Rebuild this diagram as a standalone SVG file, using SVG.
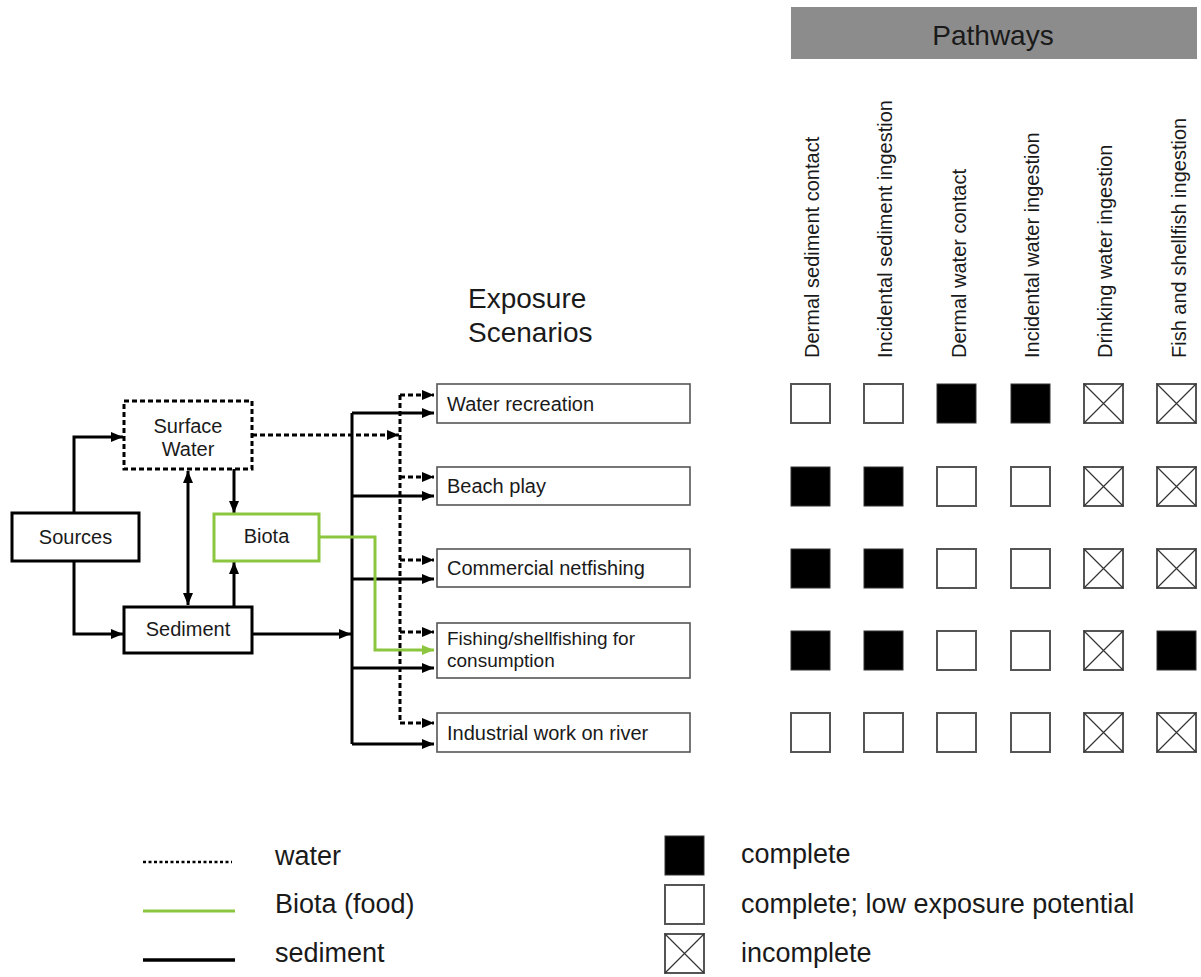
<svg xmlns="http://www.w3.org/2000/svg" width="1201" height="977" viewBox="0 0 1201 977">
<defs>
<marker id="ah" viewBox="0 0 12 10" refX="12" refY="5" markerWidth="12" markerHeight="10" markerUnits="userSpaceOnUse" orient="auto-start-reverse"><path d="M0,0 L12,5 L0,10 z" fill="#000"/></marker>
<marker id="ahg" viewBox="0 0 12 10" refX="12" refY="5" markerWidth="12" markerHeight="10" markerUnits="userSpaceOnUse" orient="auto"><path d="M0,0 L12,5 L0,10 z" fill="#8cc63e"/></marker>
<g id="xmark"><rect x="0" y="0" width="39" height="39" fill="#fff" stroke="#555" stroke-width="2"/><path d="M0,0 L39,39 M39,0 L0,39" stroke="#333" stroke-width="1.2"/></g>
<rect id="wsq" x="0" y="0" width="39" height="39" fill="#fff" stroke="#555" stroke-width="2"/>
<rect id="bsq" x="0" y="0" width="39" height="39" fill="#000" stroke="#333" stroke-width="1"/>
</defs>
<style>
text{font-family:"Liberation Sans",Arial,sans-serif;fill:#1a1a1a}
.n{font-size:20px}
.n2{font-size:19px}
.big{font-size:28px}
.lg{font-size:27px}
.col{font-size:20px}
.node{fill:#fff;stroke:#000;stroke-width:3}
.scn{fill:#fff;stroke:#555;stroke-width:1.6}
.sed{fill:none;stroke:#000;stroke-width:3}
.wat{fill:none;stroke:#000;stroke-width:3;stroke-dasharray:5 3}
.bio{fill:none;stroke:#8cc63e;stroke-width:3}
</style>
<rect width="1201" height="977" fill="#fff"/>

<g id="pathways-header">
<rect x="791" y="7" width="406" height="52" fill="#8c8c8c"/>
<text class="big" x="993" y="45" text-anchor="middle">Pathways</text>
</g>

<g id="column-labels">
<text class="col" transform="translate(819,358) rotate(-90)">Dermal sediment contact</text>
<text class="col" transform="translate(892,358) rotate(-90)">Incidental sediment ingestion</text>
<text class="col" transform="translate(966,358) rotate(-90)">Dermal water contact</text>
<text class="col" transform="translate(1039,358) rotate(-90)">Incidental water ingestion</text>
<text class="col" transform="translate(1112,358) rotate(-90)">Drinking water ingestion</text>
<text class="col" transform="translate(1186,358) rotate(-90)">Fish and shellfish ingestion</text>
</g>

<g id="exposure-title">
<text class="big" x="468" y="308">Exposure</text>
<text class="big" x="468" y="342">Scenarios</text>
</g>

<g id="connectors">
<path class="sed" d="M74,513 V437 H123" marker-end="url(#ah)"/>
<path class="sed" d="M74,561 V634 H123" marker-end="url(#ah)"/>
<path class="sed" d="M188,471 V605" marker-start="url(#ah)" marker-end="url(#ah)"/>
<path class="sed" d="M234,469 V513" marker-end="url(#ah)"/>
<path class="sed" d="M234,607 V562" marker-end="url(#ah)"/>
<path class="sed" d="M252,634 H351" marker-end="url(#ah)"/>
<path class="sed" d="M352,413 V744"/>
<path class="sed" d="M352,413 H434" marker-end="url(#ah)"/>
<path class="sed" d="M352,496 H434" marker-end="url(#ah)"/>
<path class="sed" d="M352,579 H434" marker-end="url(#ah)"/>
<path class="sed" d="M352,668 H434" marker-end="url(#ah)"/>
<path class="sed" d="M352,744 H434" marker-end="url(#ah)"/>
<path class="wat" d="M252,435 H399" marker-end="url(#ah)"/>
<path class="wat" d="M400,395 V723"/>
<path class="wat" d="M400,395 H434" marker-end="url(#ah)"/>
<path class="wat" d="M400,477 H434" marker-end="url(#ah)"/>
<path class="wat" d="M400,560 H434" marker-end="url(#ah)"/>
<path class="wat" d="M400,632 H434" marker-end="url(#ah)"/>
<path class="wat" d="M400,723 H434" marker-end="url(#ah)"/>
<path class="bio" d="M319,537 H375 V650 H434" marker-end="url(#ahg)"/>
</g>

<g id="sources"><rect class="node" x="12" y="513" width="127" height="48"/><text class="n" x="75.5" y="544" text-anchor="middle">Sources</text></g>
<g id="surface-water"><rect x="124" y="401" width="128" height="68" fill="#fff" stroke="#000" stroke-width="3" stroke-dasharray="5 3"/><text class="n" x="188" y="433" text-anchor="middle">Surface</text><text class="n" x="188" y="456" text-anchor="middle">Water</text></g>
<g id="biota"><rect x="214" y="514" width="105" height="47" fill="#fff" stroke="#8cc63e" stroke-width="3"/><text class="n" x="266.5" y="543" text-anchor="middle">Biota</text></g>
<g id="sediment"><rect class="node" x="124" y="607" width="128" height="46"/><text class="n" x="188" y="636" text-anchor="middle">Sediment</text></g>

<g id="water-recreation"><rect class="scn" x="437" y="384" width="253" height="39"/><text class="n" x="447" y="411">Water recreation</text></g>
<g id="beach-play"><rect class="scn" x="437" y="467" width="253" height="38"/><text class="n" x="447" y="493">Beach play</text></g>
<g id="commercial-netfishing"><rect class="scn" x="437" y="549" width="253" height="38"/><text class="n" x="447" y="575">Commercial netfishing</text></g>
<g id="fishing-consumption"><rect class="scn" x="437" y="623" width="253" height="55"/><text class="n2" x="447" y="645">Fishing/shellfishing for</text><text class="n2" x="447" y="667">consumption</text></g>
<g id="industrial-work"><rect class="scn" x="437" y="713" width="253" height="39"/><text class="n" x="447" y="740">Industrial work on river</text></g>

<g id="matrix">
<use href="#wsq" x="791" y="384"/><use href="#wsq" x="864" y="384"/><use href="#bsq" x="937" y="384"/><use href="#bsq" x="1011" y="384"/><use href="#xmark" x="1084" y="384"/><use href="#xmark" x="1157" y="384"/>
<use href="#bsq" x="791" y="467"/><use href="#bsq" x="864" y="467"/><use href="#wsq" x="937" y="467"/><use href="#wsq" x="1011" y="467"/><use href="#xmark" x="1084" y="467"/><use href="#xmark" x="1157" y="467"/>
<use href="#bsq" x="791" y="549"/><use href="#bsq" x="864" y="549"/><use href="#wsq" x="937" y="549"/><use href="#wsq" x="1011" y="549"/><use href="#xmark" x="1084" y="549"/><use href="#xmark" x="1157" y="549"/>
<use href="#bsq" x="791" y="631"/><use href="#bsq" x="864" y="631"/><use href="#wsq" x="937" y="631"/><use href="#wsq" x="1011" y="631"/><use href="#xmark" x="1084" y="631"/><use href="#bsq" x="1157" y="631"/>
<use href="#wsq" x="791" y="713"/><use href="#wsq" x="864" y="713"/><use href="#wsq" x="937" y="713"/><use href="#wsq" x="1011" y="713"/><use href="#xmark" x="1084" y="713"/><use href="#xmark" x="1157" y="713"/>
</g>

<g id="legend">
<line x1="143" y1="862" x2="232" y2="862" stroke="#000" stroke-width="2.5" stroke-dasharray="3 2.5"/>
<text class="lg" x="275" y="865">water</text>
<line x1="143" y1="911" x2="235" y2="911" stroke="#8cc63e" stroke-width="3"/>
<text class="lg" x="275" y="913">Biota (food)</text>
<line x1="143" y1="960" x2="235" y2="960" stroke="#000" stroke-width="3.5"/>
<text class="lg" x="275" y="962">sediment</text>
<use href="#bsq" x="665" y="836"/>
<text class="lg" x="741" y="863">complete</text>
<use href="#wsq" x="665" y="885"/>
<text class="lg" x="741" y="913">complete; low exposure potential</text>
<use href="#xmark" x="665" y="934"/>
<text class="lg" x="741" y="962">incomplete</text>
</g>
</svg>
